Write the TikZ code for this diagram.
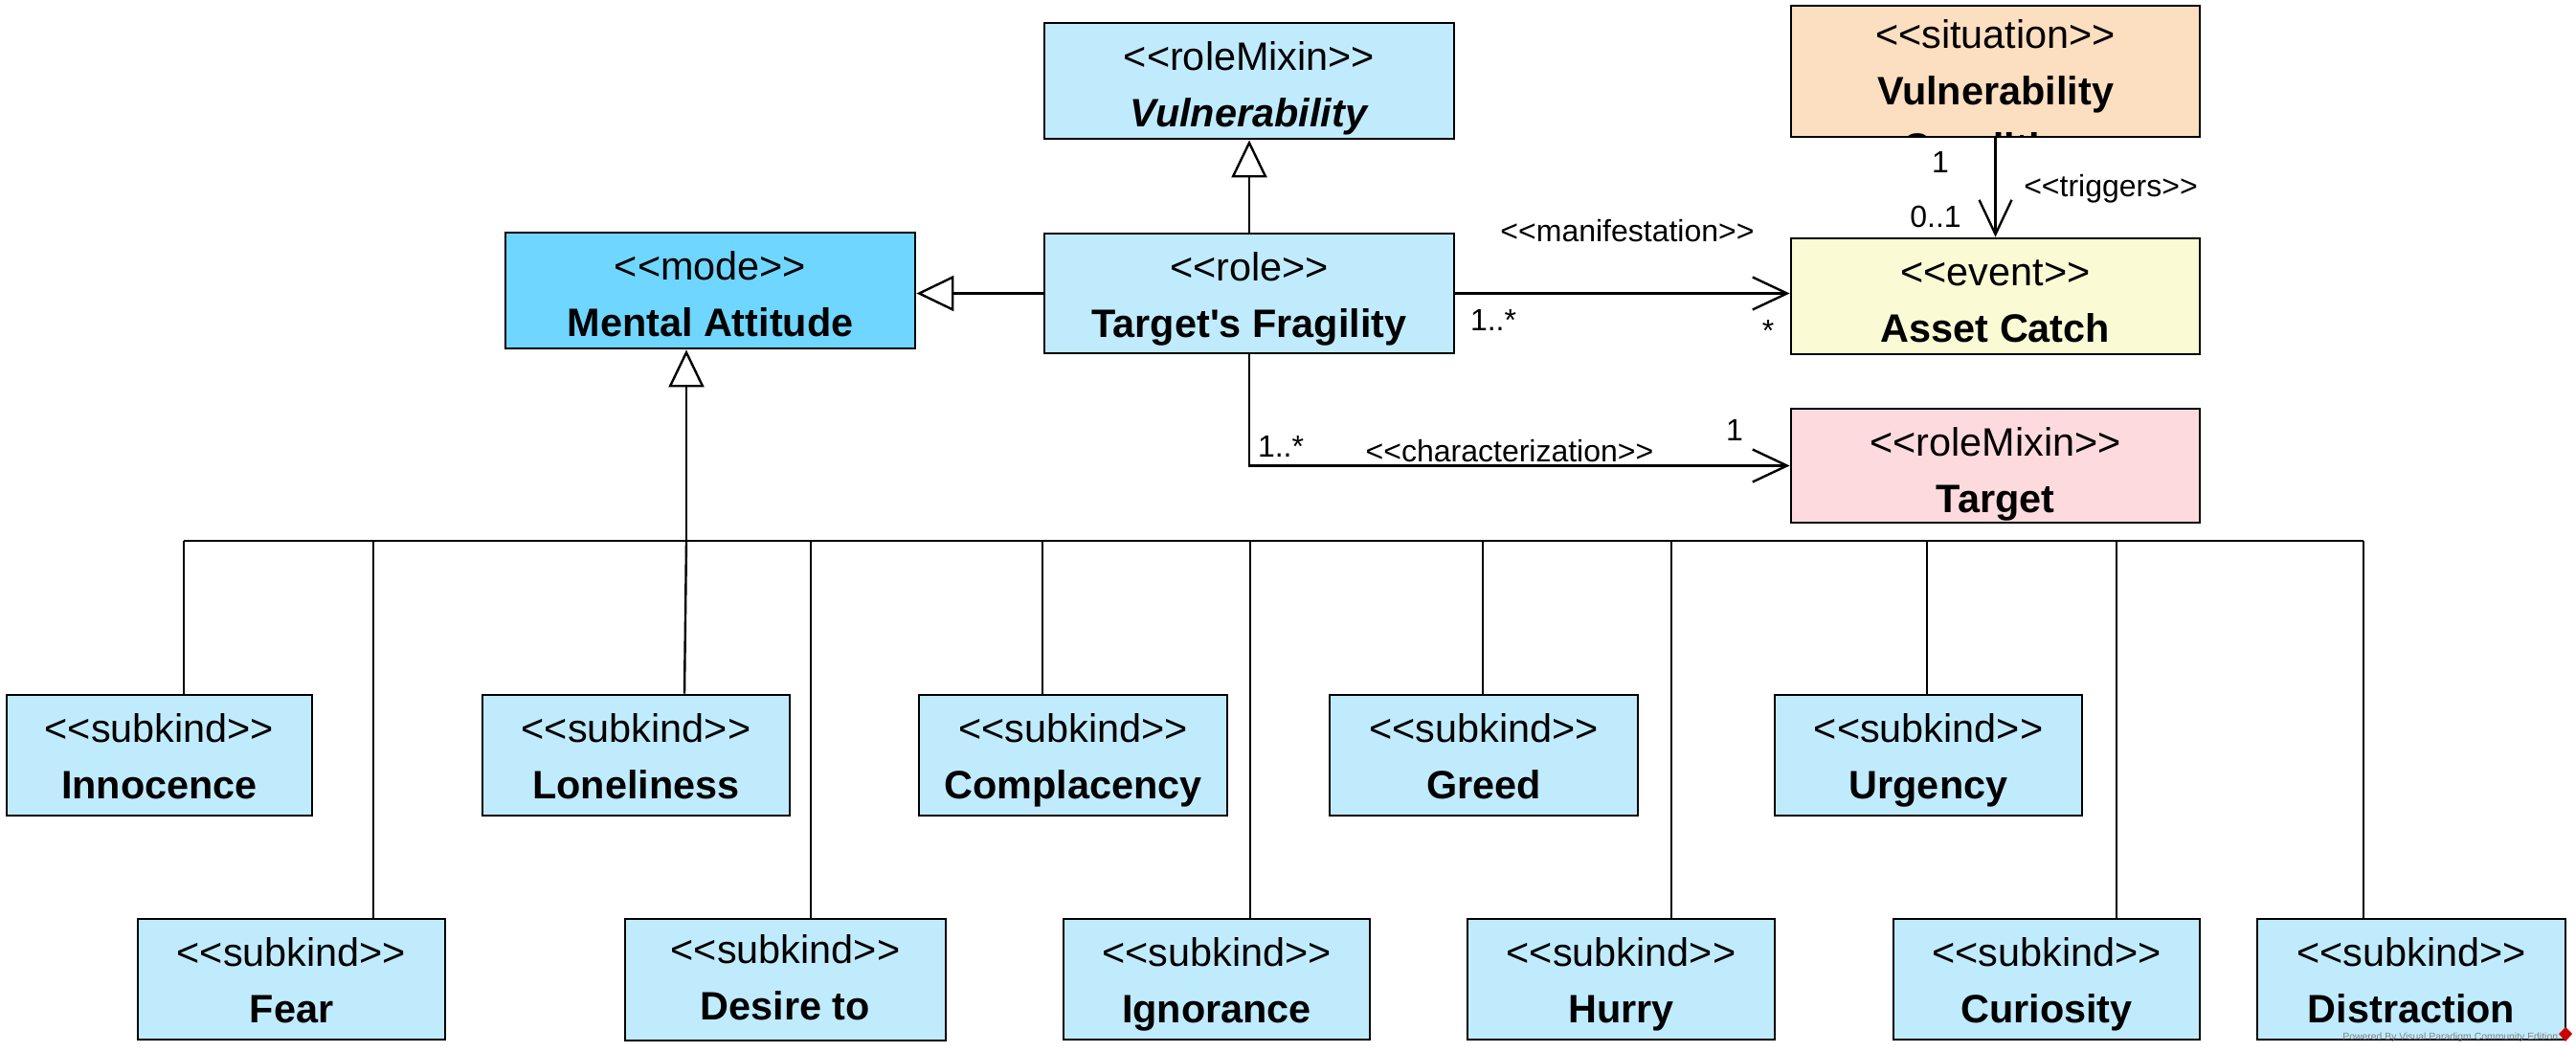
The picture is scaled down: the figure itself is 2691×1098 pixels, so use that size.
\documentclass[tikz,border=0pt]{standalone}
\usepackage{fontspec}
\setmainfont{Liberation Sans}[Ligatures=TeXOff]
\usetikzlibrary{arrows.meta,calc}
\definecolor{clsblue}{RGB}{192,235,253}
\definecolor{modeblue}{RGB}{111,214,255}
\definecolor{sitpeach}{RGB}{252,222,192}
\definecolor{evtyellow}{RGB}{250,250,212}
\definecolor{tgtpink}{RGB}{253,218,222}
\definecolor{wmgray}{RGB}{130,130,130}
\newcommand\UmlBox[9]{%
  \node[cls, fill=#6, minimum width={(#4-#2)*0.5pt}, minimum height={(#5-#3)*0.5pt}] (#1) at ({(#2+#4)/2},{(#3+#5)/2}) {};
  \node[stereo] (#1-s) at ($(#1.north)+(0,#9)$) {#7};
  \node[cname] (#1-n) at ($(#1.north)+(0,#9+59)$) {#8};
}
\tikzset{
  cls/.style={draw=black, line width=1.4pt, inner sep=0pt, rectangle},
  stereo/.style={anchor=base, inner sep=0pt, font=\fontsize{20.7}{24}\selectfont},
  cname/.style={anchor=base, inner sep=0pt, font=\fontsize{20.7}{24}\selectfont\bfseries},
  lbl/.style={anchor=base, inner sep=0pt, font=\fontsize{16}{19}\selectfont},
  conn/.style={line width=1.2pt},
  gen/.style={conn, -{Triangle[open, length=19.5pt, width=18.5pt]}},
  assoc/.style={conn, -{Straight Barb[length=18pt, width=17pt]}},
}
\begin{document}
\begin{tikzpicture}[x=0.5pt, y=-0.5pt]
\useasboundingbox (0,0) rectangle (2691,1098);
\fill[white] (0,0) rectangle (2691,1098);

% top classes
\UmlBox{vul}{1091}{24}{1519}{145}{clsblue}{<<roleMixin>>}{\textit{Vulnerability}}{51}
\UmlBox{vc}{1871}{6}{2298}{143}{sitpeach}{<<situation>>}{Vulnerability}{46}
\begin{scope}
  \clip ($(vc.south west)+(2,-2)$) rectangle ($(vc.north east)+(-2,2)$);
  \node[cname] (vc-n2) at ($(vc.north)+(0,164)$) {Condition};
\end{scope}
\UmlBox{ma}{528}{243}{956}{364}{modeblue}{<<mode>>}{Mental Attitude}{51}
\UmlBox{tf}{1091}{244}{1519}{369}{clsblue}{<<role>>}{Target's Fragility}{51}
\UmlBox{ac}{1871}{249}{2298}{370}{evtyellow}{<<event>>}{Asset Catch}{51}
\UmlBox{tg}{1871}{427}{2298}{546}{tgtpink}{<<roleMixin>>}{Target}{51}

% subkinds row 1
\UmlBox{inn}{7}{726}{326}{852}{clsblue}{<<subkind>>}{Innocence}{51}
\UmlBox{lon}{504}{726}{825}{852}{clsblue}{<<subkind>>}{Loneliness}{51}
\UmlBox{com}{960}{726}{1282}{852}{clsblue}{<<subkind>>}{Complacency}{51}
\UmlBox{gre}{1389}{726}{1711}{852}{clsblue}{<<subkind>>}{Greed}{51}
\UmlBox{urg}{1854}{726}{2175}{852}{clsblue}{<<subkind>>}{Urgency}{51}
% subkinds row 2
\UmlBox{fea}{144}{960}{465}{1086}{clsblue}{<<subkind>>}{Fear}{51}
\UmlBox{des}{653}{960}{988}{1087}{clsblue}{<<subkind>>}{Desire to}{48}
\UmlBox{ign}{1111}{960}{1431}{1086}{clsblue}{<<subkind>>}{Ignorance}{51}
\UmlBox{hur}{1533}{960}{1854}{1086}{clsblue}{<<subkind>>}{Hurry}{51}
\UmlBox{cur}{1978}{960}{2298}{1086}{clsblue}{<<subkind>>}{Curiosity}{51}
\UmlBox{dis}{2358}{960}{2680}{1086}{clsblue}{<<subkind>>}{Distraction}{51}

% generalizations
\draw[gen] (tf) -- (vul);
\draw[gen] (tf.west) -- (ma.east |- tf.west);

% associations
\draw[assoc] (tf.east) -- (ac.west |- tf.east);
\node[lbl] (l-man) at (1700,252) {<<manifestation>>};
\node[lbl] (l-man1) at (1560,345) {1..*};
\node[lbl] (l-man2) at (1847,356) {*};

\draw[assoc] (vc.south) -- (ac.north);
\node[lbl] (l-tr1) at (2027,180) {1};
\node[lbl] (l-tr) at (2205,205) {<<triggers>>};
\node[lbl] (l-tr2) at (2022,237) {0..1};

\draw[assoc] (tf.south) |- (tg.west);
\node[lbl] (l-ch1) at (1338,477) {1..*};
\node[lbl] (l-ch) at (1577,482) {<<characterization>>};
\node[lbl] (l-ch2) at (1812,460) {1};

% generalization set tree
\coordinate (busL) at (192,565);
\coordinate (busR) at (2469,565);
\coordinate (busM) at (717,565);
\draw[conn] (busL) -- (busR);
\draw[gen] (busM) -- (busM |- ma.south);
\draw[conn] (busL) -- (192,0 |- inn.north);
\draw[conn] (390,565) -- (390,0 |- fea.north);
\draw[conn] (busM) -- (715,0 |- lon.north);
\draw[conn] (847,565) -- (847,0 |- des.north);
\draw[conn] (1089,565) -- (1089,0 |- com.north);
\draw[conn] (1306,565) -- (1306,0 |- ign.north);
\draw[conn] (1549,565) -- (1549,0 |- gre.north);
\draw[conn] (1746,565) -- (1746,0 |- hur.north);
\draw[conn] (2013,565) -- (2013,0 |- urg.north);
\draw[conn] (2211,565) -- (2211,0 |- cur.north);
\draw[conn] (busR) -- (2469,0 |- dis.north);

% watermark
\node[anchor=base west, inner sep=0pt, text=wmgray, font=\fontsize{5.2}{6}\selectfont] (wm) at (2447,1086) {Powered By Visual Paradigm Community Edition};
\fill[red!80!black] (2680,1073) -- (2687,1080) -- (2680,1088) -- (2673,1080) -- cycle;
\end{tikzpicture}
\end{document}
